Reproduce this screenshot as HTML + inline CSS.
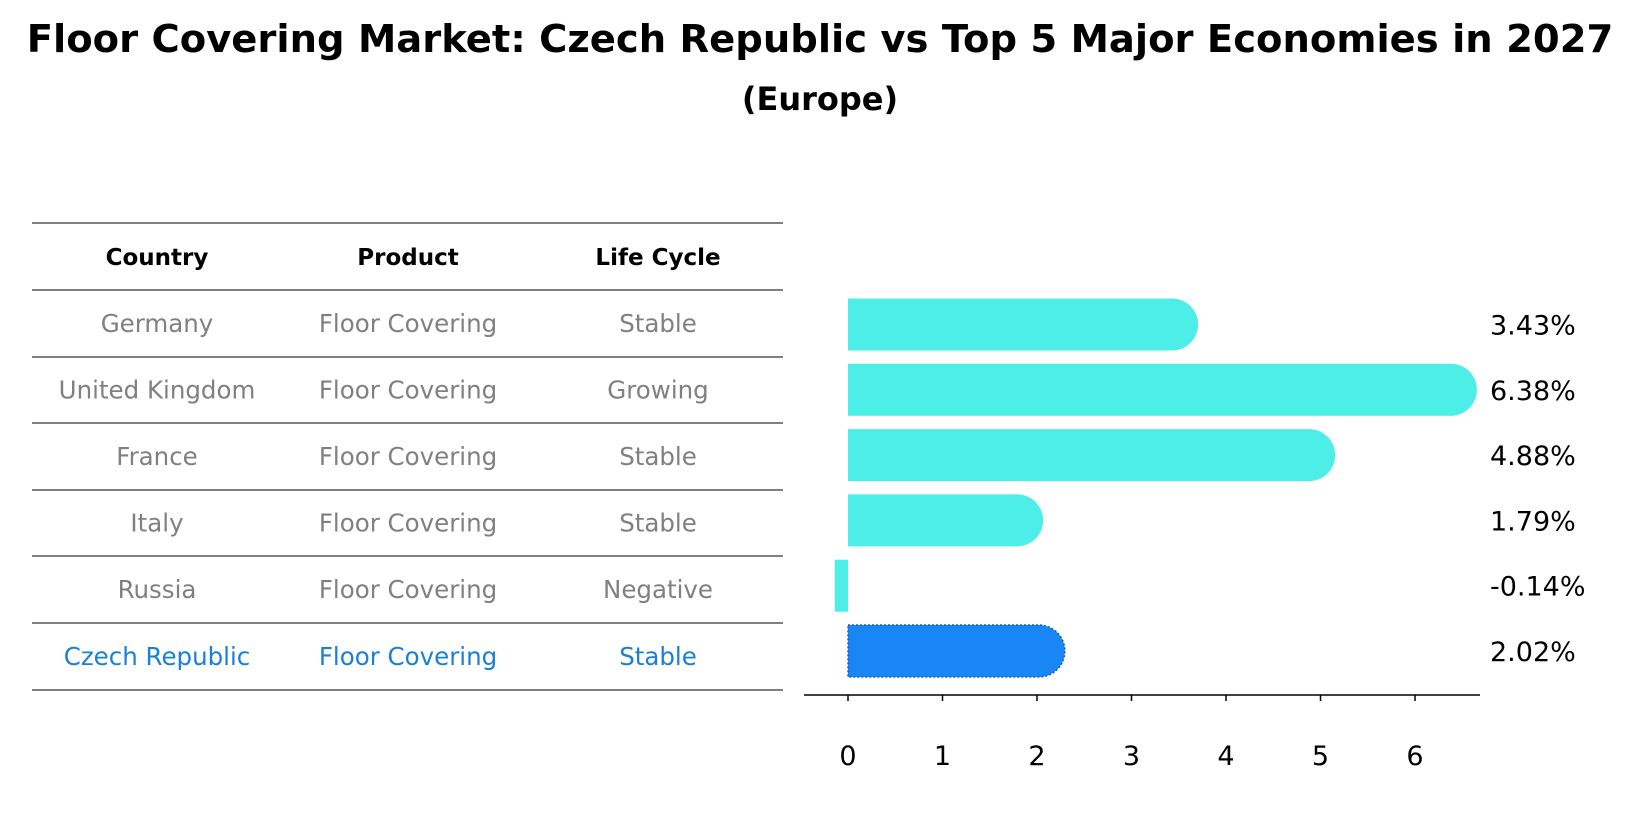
<!DOCTYPE html>
<html><head><meta charset="utf-8"><style>
body{margin:0;background:#fff;font-family:"DejaVu Sans","Liberation Sans",sans-serif;}
svg text{font-family:"DejaVu Sans","Liberation Sans",sans-serif;}
</style></head><body>
<svg id="chart" width="1640" height="823" xmlns="http://www.w3.org/2000/svg">
<text x="820" y="52" text-anchor="middle" font-size="38.5" font-weight="bold">Floor Covering Market: Czech Republic vs Top 5 Major Economies in 2027</text>
<text x="820" y="110" text-anchor="middle" font-size="32" font-weight="bold">(Europe)</text>
<g id="table"></g>
<g id="bars"></g>
</svg>
<script>
const countries=["Germany","United Kingdom","France","Italy","Russia","Czech Republic"];
const products=["Floor Covering","Floor Covering","Floor Covering","Floor Covering","Floor Covering","Floor Covering"];
const lifeCycles=["Stable","Growing","Stable","Stable","Negative","Stable"];
const values=[3.43,6.38,4.88,1.79,-0.14,2.02];
const valueLabels=["3.43%","6.38%","4.88%","1.79%","-0.14%","2.02%"];
const xTicks=[0,1,2,3,4,5,6];

const NS="http://www.w3.org/2000/svg";
function mk(tag,attrs,parent,text){const e=document.createElementNS(NS,tag);for(const k in attrs)e.setAttribute(k,attrs[k]);if(text!==undefined)e.textContent=text;parent.appendChild(e);return e;}
const tbl=document.getElementById('table');
const bars=document.getElementById('bars');
const lineYs=[223,290,357,423,490,556,623,690];
const colX=[157,408,658];
lineYs.forEach((y,i)=>{const l=mk('line',{x1:32,x2:783,y1:y,y2:y,stroke:'#000','stroke-width':1},tbl);

});
["Country","Product","Life Cycle"].forEach((h,i)=>{const t=mk('text',{x:colX[i],y:265,'text-anchor':'middle','font-size':23,'font-weight':'bold'},tbl,h);

});
countries.forEach((c,r)=>{const y=(lineYs[r+1]+lineYs[r+2])/2+8.5;const col=r===countries.length-1?'#1a7fd9':'#808080';
[c,products[r],lifeCycles[r]].forEach((v,i)=>{const t=mk('text',{x:colX[i],y:y,'text-anchor':'middle','font-size':24.5,fill:col},tbl,v);

});});
const x0=848,unit=94.5;
const xs=v=>x0+v*unit;
const step=65.3,bh=52,lastC=651;
const yc=i=>lastC-(values.length-1-i)*step;
const ax=mk('line',{x1:804,x2:1480,y1:695,y2:695,stroke:'#000','stroke-width':1.5},bars);


xTicks.forEach(t=>{const tk=mk('line',{x1:xs(t),x2:xs(t),y1:695,y2:701,stroke:'#000','stroke-width':1.5},bars);


const tl=mk('text',{x:xs(t),y:765,'text-anchor':'middle','font-size':27},bars,String(t));

});
values.forEach((v,i)=>{const c=yc(i),top=c-bh/2,r=bh/2;const last=i===values.length-1;const fill=last?'#1a86f5':'#4deee8';let el;
if(v>=0){const xe=xs(v);el=mk('path',{d:`M${x0},${top} H${xe} A${r},${r} 0 0 1 ${xe},${top+bh} H${x0} Z`,fill:fill},bars);
if(last){el.setAttribute('stroke','#1560c0');el.setAttribute('stroke-width','1.5');el.setAttribute('stroke-dasharray','2,2');}}
else{el=mk('rect',{x:xs(v),y:top,width:x0-xs(v),height:bh,fill:fill},bars);}


const lb=mk('text',{x:1490,y:c+10,'font-size':27},bars,valueLabels[i]);

});
</script>
</body></html>
